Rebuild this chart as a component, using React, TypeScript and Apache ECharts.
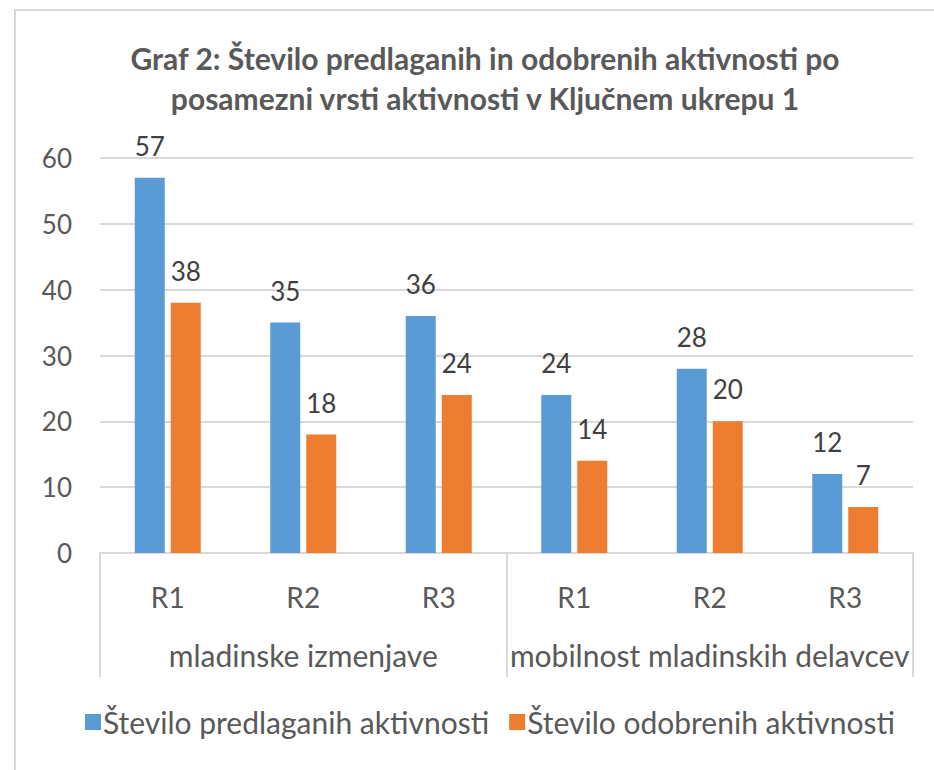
import React, { useEffect, useRef } from "react";
import * as echarts from "echarts";

const categories = ["R1", "R2", "R3", "R1", "R2", "R3"];
const groups = ["mladinske izmenjave", "mobilnost mladinskih delavcev"];
const proposed = [57, 35, 36, 24, 28, 12];
const approved = [38, 18, 24, 14, 20, 7];
const seriesNames = ["Število predlaganih aktivnosti", "Število odobrenih aktivnosti"];
const titleText = "Graf 2: Število predlaganih in odobrenih aktivnosti po\nposamezni vrsti aktivnosti v Ključnem ukrepu 1";

const FONT = "Lato";
const GRAY = "#595959";
const LINE = "#D9D9D9";

export default function App() {
  const ref = useRef<HTMLDivElement>(null);
  useEffect(() => {
    if (!ref.current) return;
    const chart = echarts.init(ref.current, null, { renderer: "svg" });
    chart.setOption({
      animation: false,
      backgroundColor: "#fff",
      textStyle: { fontFamily: FONT },
      title: {
        text: titleText,
        left: 480,
        textAlign: "center",
        top: 33,
        textStyle: { fontFamily: FONT, fontSize: 30, fontWeight: "bold", color: GRAY, lineHeight: 40 },
      },
      graphic: [
        {
          type: "rect",
          shape: { x: 15, y: 10, width: 1000, height: 900 },
          style: { fill: "none", stroke: LINE, lineWidth: 2 },
          silent: true,
        },
      ],
      legend: {
        data: seriesNames,
        left: 80,
        top: 702,
        icon: "rect",
        itemWidth: 16,
        itemHeight: 16,
        itemGap: 20,
        textStyle: { fontFamily: FONT, fontSize: 30, color: GRAY, padding: [0, 0, 0, -3] },
      },
      grid: { left: 100, right: 21, top: 158, bottom: 217 },
      xAxis: [
        {
          type: "category",
          data: categories,
          position: "bottom",
          axisLine: { show: true, lineStyle: { color: LINE, width: 2 } },
          axisTick: { show: false },
          axisLabel: { fontFamily: FONT, fontSize: 28, color: GRAY, margin: 30, interval: 0 },
        },
        {
          type: "category",
          data: groups,
          position: "bottom",
          axisLine: { show: false },
          axisTick: { show: true, length: 124, interval: 0, lineStyle: { color: LINE, width: 2 } },
          axisLabel: { fontFamily: FONT, fontSize: 30, color: GRAY, margin: 87, interval: 0 },
        },
      ],
      yAxis: {
        type: "value",
        min: 0,
        max: 60,
        interval: 10,
        axisLine: { show: false },
        axisTick: { show: false },
        splitLine: { lineStyle: { color: LINE, width: 2 } },
        axisLabel: { fontFamily: FONT, fontSize: 26, color: GRAY, margin: 28 },
      },
      series: [
        {
          name: seriesNames[0],
          type: "bar",
          xAxisIndex: 0,
          data: proposed,
          barWidth: 30,
          barGap: "20%",
          itemStyle: { color: "#5B9BD5" },
          label: { show: true, position: "top", distance: 19, fontFamily: FONT, fontSize: 26, color: "#404040" },
        },
        {
          name: seriesNames[1],
          type: "bar",
          xAxisIndex: 0,
          data: approved,
          barWidth: 30,
          barGap: "20%",
          itemStyle: { color: "#ED7D31" },
          label: { show: true, position: "top", distance: 19, fontFamily: FONT, fontSize: 26, color: "#404040" },
        },
      ],
    });
    return () => chart.dispose();
  }, []);
  return (
    <div
      ref={ref}
      style={{ position: "fixed", left: 0, top: 0, width: 934, height: 770, background: "#fff" }}
    />
  );
}
